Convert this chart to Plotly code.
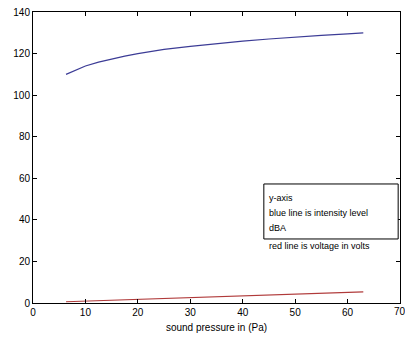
import plotly.graph_objects as go

pressure = [6.3, 8, 10, 12.5, 15, 17.5, 20, 25, 30, 35, 40, 45, 50, 55, 60, 63]
intensity_dba = [110, 112, 114, 115.9, 117.5, 118.8, 120, 122, 123.5, 124.8, 126, 127, 128, 128.8, 129.5, 130]
voltage = [0.6, 0.75, 0.9, 1.1, 1.3, 1.5, 1.7, 2.1, 2.6, 3.0, 3.4, 3.8, 4.3, 4.7, 5.1, 5.4]

x_ticks = [0, 10, 20, 30, 40, 50, 60]
legend_lines = ["y-axis", "blue line is intensity level", "dBA", "red line is voltage in volts"]

fig = go.Figure()
fig.add_trace(go.Scatter(x=pressure, y=intensity_dba, mode="lines",
                         line=dict(color="#3c3c96", width=1.2), showlegend=False))
fig.add_trace(go.Scatter(x=pressure, y=voltage, mode="lines",
                         line=dict(color="#b03a3a", width=1.2), showlegend=False))

axis_common = dict(showline=True, linecolor="black", linewidth=1, mirror="ticks",
                   ticks="inside", ticklen=4, tickcolor="black", showgrid=False,
                   zeroline=False, tickfont=dict(family="Liberation Sans", size=10, color="black"))

fig.update_xaxes(range=[0, 70], tickvals=x_ticks + [70], ticktext=[str(v) for v in x_ticks] + [""],
                 title=dict(text="sound pressure in (Pa)", font=dict(family="Liberation Sans", size=10, color="black"),
                            standoff=6),
                 **axis_common)
fig.update_yaxes(range=[0, 140], tickvals=[0, 20, 40, 60, 80, 100, 120, 140], **axis_common)

# last x tick label, clipped at the figure edge as in the original
fig.add_annotation(text="70", xref="x", yref="paper", x=70, y=0, xanchor="center", yanchor="top",
                   yshift=-1, showarrow=False, font=dict(family="Liberation Sans", size=10, color="black"))

fig.add_shape(type="rect", xref="paper", yref="paper", x0=0.629, x1=0.995, y0=0.22, y1=0.409,
              line=dict(color="black", width=1), fillcolor="white")

ys = [0.361, 0.309, 0.258, 0.196]
for t, y in zip(legend_lines, ys):
    fig.add_annotation(text=t, xref="paper", yref="paper", x=0.638, y=y, xanchor="left", yanchor="middle",
                       showarrow=False, font=dict(family="Liberation Sans", size=9, color="black"))

fig.update_layout(width=405, height=342, margin=dict(l=33, r=5, t=12, b=39),
                  plot_bgcolor="white", paper_bgcolor="white")

fig.write_html("out.html")
